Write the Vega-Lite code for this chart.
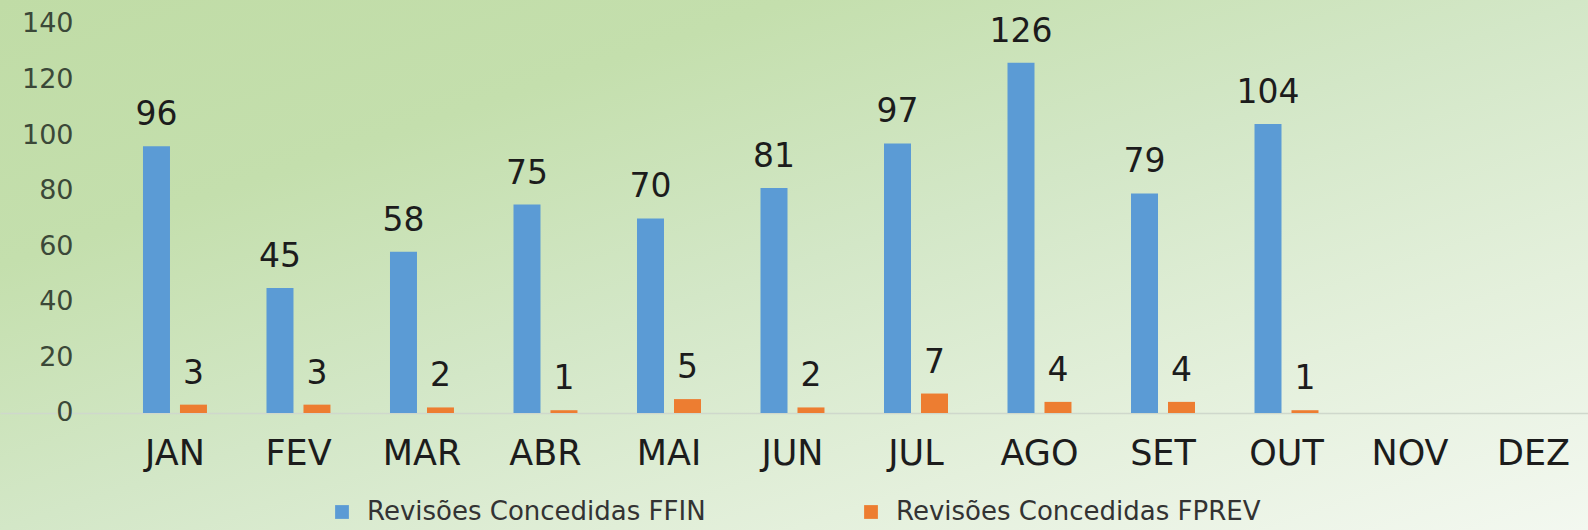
{
  "$schema": "https://vega.github.io/schema/vega-lite/v6.json",
  "width": 1588,
  "height": 530,
  "autosize": {"type": "none"},
  "padding": 0,
  "background": "#dcebd2",
  "config": {
    "view": {
      "stroke": null,
      "fill": {
        "gradient": "linear",
        "x1": 0, "y1": 0, "x2": 1, "y2": 1,
        "stops": [
          {"offset": 0, "color": "#c0dca6"},
          {"offset": 0.25, "color": "#c4dfad"},
          {"offset": 0.5, "color": "#d3e7c7"},
          {"offset": 0.75, "color": "#e4f0dc"},
          {"offset": 1, "color": "#f3f8f0"}
        ]
      }
    },
    "font": "DejaVu Sans"
  },
  "data": {
    "values": [
      {"mes": "JAN", "serie": "Revisões Concedidas FFIN", "valor": 96},
      {"mes": "FEV", "serie": "Revisões Concedidas FFIN", "valor": 45},
      {"mes": "MAR", "serie": "Revisões Concedidas FFIN", "valor": 58},
      {"mes": "ABR", "serie": "Revisões Concedidas FFIN", "valor": 75},
      {"mes": "MAI", "serie": "Revisões Concedidas FFIN", "valor": 70},
      {"mes": "JUN", "serie": "Revisões Concedidas FFIN", "valor": 81},
      {"mes": "JUL", "serie": "Revisões Concedidas FFIN", "valor": 97},
      {"mes": "AGO", "serie": "Revisões Concedidas FFIN", "valor": 126},
      {"mes": "SET", "serie": "Revisões Concedidas FFIN", "valor": 79},
      {"mes": "OUT", "serie": "Revisões Concedidas FFIN", "valor": 104},
      {"mes": "JAN", "serie": "Revisões Concedidas FPREV", "valor": 3},
      {"mes": "FEV", "serie": "Revisões Concedidas FPREV", "valor": 3},
      {"mes": "MAR", "serie": "Revisões Concedidas FPREV", "valor": 2},
      {"mes": "ABR", "serie": "Revisões Concedidas FPREV", "valor": 1},
      {"mes": "MAI", "serie": "Revisões Concedidas FPREV", "valor": 5},
      {"mes": "JUN", "serie": "Revisões Concedidas FPREV", "valor": 2},
      {"mes": "JUL", "serie": "Revisões Concedidas FPREV", "valor": 7},
      {"mes": "AGO", "serie": "Revisões Concedidas FPREV", "valor": 4},
      {"mes": "SET", "serie": "Revisões Concedidas FPREV", "valor": 4},
      {"mes": "OUT", "serie": "Revisões Concedidas FPREV", "valor": 1}
    ]
  },
  "encoding": {
    "x": {
      "field": "mes",
      "type": "nominal",
      "sort": null,
      "title": null,
      "scale": {
        "domain": ["JAN", "FEV", "MAR", "ABR", "MAI", "JUN", "JUL", "AGO", "SET", "OUT", "NOV", "DEZ"],
        "paddingInner": 0.482,
        "paddingOuter": 0.67,
        "align": 0.864
      },
      "axis": {
        "orient": "bottom",
        "offset": -117,
        "ticks": false,
        "labelPadding": 23,
        "labelFontSize": 35,
        "labelColor": "#1c1c1c",
        "labelFont": "DejaVu Sans",
        "labelAngle": 0,
        "domainColor": "#cfd8cc",
        "domainWidth": 1.5,
        "grid": false
      }
    },
    "xOffset": {
      "field": "serie",
      "type": "nominal",
      "sort": ["Revisões Concedidas FFIN", "Revisões Concedidas FPREV"],
      "scale": {"paddingInner": 0.27, "paddingOuter": 0}
    },
    "y": {
      "field": "valor",
      "type": "quantitative",
      "title": null,
      "scale": {"domain": [-42.1, 148.6], "nice": false, "zero": false},
      "axis": {
        "orient": "left",
        "offset": -73,
        "values": [0, 20, 40, 60, 80, 100, 120, 140],
        "ticks": false,
        "domain": false,
        "grid": false,
        "labelPadding": 0,
        "labelFontSize": 27,
        "labelColor": "#3b4838",
        "labelFont": "DejaVu Sans"
      }
    }
  },
  "layer": [
    {
      "mark": {"type": "bar"},
      "encoding": {
        "y2": {"datum": 0},
        "color": {
          "field": "serie",
          "type": "nominal",
          "scale": {
            "domain": ["Revisões Concedidas FFIN", "Revisões Concedidas FPREV"],
            "range": ["#5b9bd5", "#ed7d31"]
          },
          "legend": {
            "orient": "none",
            "legendX": 329,
            "legendY": 499,
            "direction": "horizontal",
            "title": null,
            "symbolType": "square",
            "symbolSize": 190,
            "symbolStrokeWidth": 0,
            "labelFontSize": 26,
            "labelFont": "DejaVu Sans",
            "labelColor": "#333333",
            "labelLimit": 800,
            "labelOffset": 12,
            "columnPadding": 152
          }
        }
      }
    },
    {
      "mark": {"type": "text", "baseline": "alphabetic", "dy": -21, "fontSize": 33, "font": "DejaVu Sans", "color": "#1c1c1c"},
      "encoding": {
        "text": {"field": "valor", "type": "quantitative"}
      }
    }
  ]
}
